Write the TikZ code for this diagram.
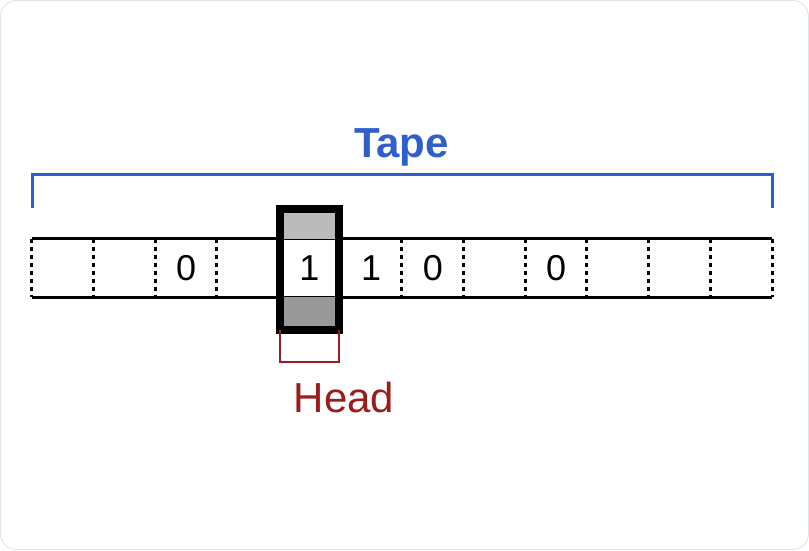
\documentclass[tikz,border=0pt]{standalone}
\usepackage{fontspec}
\setmainfont{Liberation Sans}
\usetikzlibrary{positioning}

\definecolor{tapeblue}{HTML}{2F5FCC}
\definecolor{headred}{HTML}{9B1C1C}
\definecolor{cardedge}{HTML}{E1E5EB}
\definecolor{headtop}{HTML}{BBBBBB}
\definecolor{headbot}{HTML}{999999}

\begin{document}
\begin{tikzpicture}[x=1pt,y=-1pt,
    cell/.style={minimum width=61.667pt, minimum height=58pt, inner sep=0pt,
      font=\fontsize{36}{40}\selectfont},
    divider/.style={line width=3pt, dash pattern=on 4pt off 4pt}]
  \useasboundingbox (0,0) rectangle (809,550);
  \draw [cardedge, line width=1pt, rounded corners=16pt] (0.5,0.5) rectangle (808.5,549.5);
  % the tape
  \foreach \i/\v in {1/,2/,3/0,4/,5/1,6/1,7/0,8/,9/0,10/,11/,12/}
    \node (c\i) [cell] at (1.167+61.667*\i, 268) {\v};
  \foreach \i in {1,...,12}
    \draw [divider] (c\i.north west) -- (c\i.south west);
  \draw [divider] (c12.north east) -- (c12.south east);
  \draw [line width=3pt] (c1.north west) -- (c12.north east);
  \draw [line width=3pt] (c1.south west) -- (c12.south east);
  % the head
  \node (head) [minimum width=59pt, minimum height=121pt, inner sep=0pt] at (309.5,269.5) {};
  \fill [headtop] (head.north west) rectangle (head.east |- c5.north);
  \fill [headbot] (head.west |- c5.south) rectangle (head.south east);
  \draw [line width=8pt] (head.north west) rectangle (head.south east);
  \draw [headred, line width=2.5pt] (head.south west) -- ++(0,32) -| (head.south east);
  \node (headlbl) [headred, anchor=base, font=\fontsize{42}{48}\selectfont] at (344,412) {Head};
  % bracket over the tape
  \coordinate (bl) at (32,174);
  \coordinate (br) at (772,174);
  \draw [tapeblue, line width=3pt] (bl) ++(0,34) -- (bl) -- (br) -- ++(0,34);
  \node (tapelbl) [tapeblue, anchor=base, font=\bfseries\fontsize{42}{48}\selectfont] at (401.5,157) {Tape};
\end{tikzpicture}
\end{document}
